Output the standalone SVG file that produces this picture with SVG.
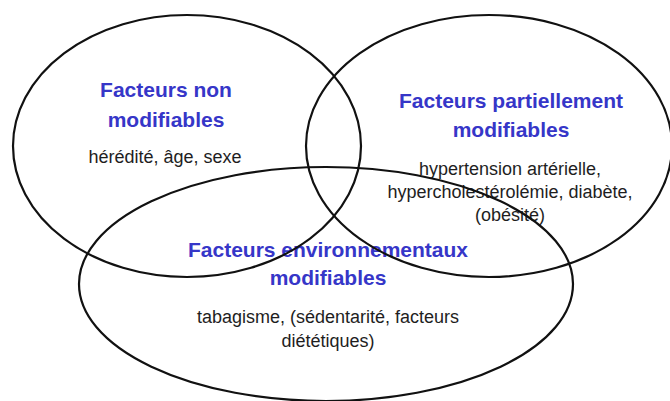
<svg xmlns="http://www.w3.org/2000/svg" width="670" height="401" viewBox="0 0 670 401">
<style>
.ell{fill:none;stroke:#111;stroke-width:2.2}
.title{font-family:"Liberation Sans",Arial,sans-serif;font-weight:bold;font-size:21px;fill:#3636c8;text-anchor:middle}
.body{font-family:"Liberation Sans",Arial,sans-serif;font-size:18px;fill:#1e1e1e;text-anchor:middle}
</style>
<rect x="0" y="0" width="670" height="401" fill="#ffffff"/>
<g id="labels">
<g id="node-non-modifiables-text">
<text class="title" x="166" y="97">Facteurs non</text>
<text class="title" x="166" y="127">modifiables</text>
<text class="body" x="165" y="163">hérédité, âge, sexe</text>
</g>
<g id="node-partiellement-text">
<text class="title" x="511" y="108">Facteurs partiellement</text>
<text class="title" x="511" y="137">modifiables</text>
<text class="body" x="510" y="175">hypertension artérielle,</text>
<text class="body" x="510" y="198">hypercholestérolémie, diabète,</text>
<text class="body" x="510" y="221">(obésité)</text>
</g>
<g id="node-environnementaux-text">
<text class="title" x="328" y="257">Facteurs environnementaux</text>
<text class="title" x="328" y="285">modifiables</text>
<text class="body" x="328" y="323">tabagisme, (sédentarité, facteurs</text>
<text class="body" x="328" y="347">diététiques)</text>
</g>
</g>
<g id="node-non-modifiables">
<ellipse class="ell" cx="187" cy="146" rx="174" ry="131"/>
</g>
<g id="node-partiellement">
<ellipse class="ell" cx="489" cy="146" rx="183" ry="131"/>
</g>
<g id="node-environnementaux">
<ellipse class="ell" cx="326" cy="284" rx="247" ry="117"/>
</g>
<g id="connectors"></g>
</svg>
